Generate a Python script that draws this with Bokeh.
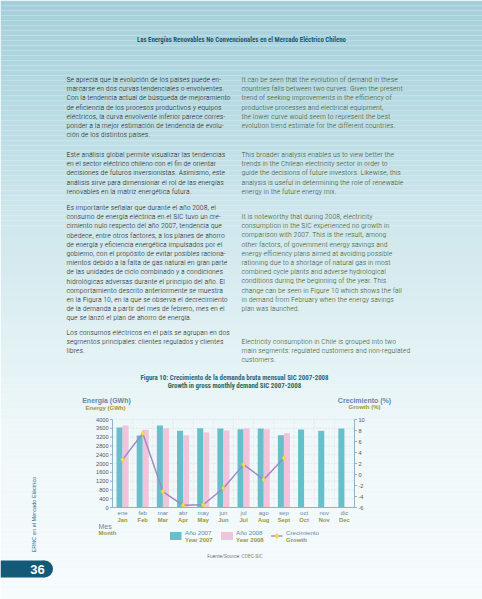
import numpy as np
from bokeh.plotting import figure
from bokeh.models import Range1d
from bokeh.core.properties import value
from bokeh.embed import file_html
from bokeh.resources import INLINE

# chart data
meses = ["ene", "feb", "mar", "abr", "may", "jun", "jul", "ago", "sep", "oct", "nov", "dic"]
months = ["Jan", "Feb", "Mar", "Apr", "May", "Jun", "Jul", "Aug", "Sept", "Oct", "Nov", "Dec"]
energia_2007 = [3635, 3270, 3725, 3485, 3605, 3590, 3560, 3590, 3285, 3545, 3485, 3590]
energia_2008 = [3725, 3530, 3605, 3285, 3405, 3500, 3605, 3560, 3375]
crecimiento = [2.7, 7.5, -3.1, -5.6, -5.5, -2.5, 1.8, -0.9, 3.0]
energy_ticks = [0, 400, 800, 1200, 1600, 2000, 2400, 2800, 3200, 3600, 4000]
growth_ticks = [-6, -4, -2, 0, 2, 4, 6, 8, 10]

# page text
header = "Las Energías Renovables No Convencionales en el Mercado Eléctrico Chileno"
left_paras = [
    ["Se aprecia que la evolución de los países puede en-",
     "marcarse en dos curvas tendenciales o envolventes.",
     "Con la tendencia actual de búsqueda de mejoramiento",
     "de eficiencia de los procesos productivos y equipos",
     "eléctricos, la curva envolvente inferior parece corres-",
     "ponder a la mejor estimación de tendencia de evolu-",
     "ción de los distintos países."],
    ["Este análisis global permite visualizar las tendencias",
     "en el sector eléctrico chileno con el fin de orientar",
     "decisiones de futuros inversionistas. Asimismo, este",
     "análisis sirve para dimensionar el rol de las energías",
     "renovables en la matriz energética futura."],
    ["Es importante señalar que durante el año 2008, el",
     "consumo de energía eléctrica en el SIC tuvo un cre-",
     "cimiento nulo respecto del año 2007, tendencia que",
     "obedece, entre otros factores, a los planes de ahorro",
     "de energía y eficiencia energética impulsados por el",
     "gobierno, con el propósito de evitar posibles raciona-",
     "mientos debido a la falta de gas natural en gran parte",
     "de las unidades de ciclo combinado y a condiciones",
     "hidrológicas adversas durante el principio del año. El",
     "comportamiento descrito anteriormente se muestra",
     "en la Figura 10, en la que se observa el decrecimiento",
     "de la demanda a partir del mes de febrero, mes en el",
     "que se lanzó el plan de ahorro de energía."],
    ["Los consumos eléctricos en el país se agrupan en dos",
     "segmentos principales: clientes regulados y clientes",
     "libres."],
]
right_paras = [
    ["It can be seen that the evolution of demand in these",
     "countries falls between two curves. Given the present",
     "trend of seeking improvements in the efficiency of",
     "productive processes and electrical equipment,",
     "the lower curve would seem to represent the best",
     "evolution trend estimate for the different countries."],
    ["This broader analysis enables us to view better the",
     "trends in the Chilean electricity sector in order to",
     "guide the decisions of future investors. Likewise, this",
     "analysis is useful in determining the role of renewable",
     "energy in the future energy mix."],
    ["It is noteworthy that during 2008, electricity",
     "consumption in the SIC experienced no growth in",
     "comparison with 2007. This is the result, among",
     "other factors, of government energy savings and",
     "energy efficiency plans aimed at avoiding possible",
     "rationing due to a shortage of natural gas in most",
     "combined cycle plants and adverse hydrological",
     "conditions during the beginning of the year. This",
     "change can be seen in Figure 10 which shows the fall",
     "in demand from February when the energy savings",
     "plan was launched."],
    ["Electricity consumption in Chile is grouped into two",
     "main segments: regulated customers and non-regulated",
     "customers."],
]
left_starts = [79, 154, 207, 332]
right_starts = [79, 154, 216, 341]
LINE = 9.2

NARROW = value("'Roboto Condensed Light', 'Roboto Condensed', 'DejaVu Sans Condensed'")
NARROW_B = value("'Roboto Condensed', 'DejaVu Sans Condensed'")
SANS = value("'Liberation Sans', Arial, sans-serif")

TEAL = "#66bfcb"
PINK = "#f2c4db"
PURPLE = "#9b88c2"
YELLOW = "#f4e04d"
AXIS = "#8fb2c6"
BLUEGRAY = "#6587a8"
OLIVE = "#9d9636"

PW, PH = 482, 599
p = figure(width=PW, height=PH, x_range=Range1d(0, PW), y_range=Range1d(PH, 0),
           output_backend="svg", toolbar_location=None, min_border=0)
p.axis.visible = False
p.grid.visible = False
p.outline_line_color = None

# background gradient
stops_y = [0, 70, 200, 330, 430, 599]
stops_c = [(164, 207, 218), (176, 215, 224), (203, 229, 235), (224, 240, 243), (238, 247, 249), (246, 251, 252)]
ys = np.linspace(0, PH, 121)
cols = []
for y in ys[:-1]:
    rgb = [np.interp(y + 2.5, stops_y, [c[i] for c in stops_c]) for i in range(3)]
    cols.append("#%02x%02x%02x" % tuple(int(round(v)) for v in rgb))
p.quad(left=0, right=PW, top=ys[:-1], bottom=ys[1:], fill_color=cols, line_color=None)

p.text(x=[241], y=[39], text=[header], text_font=NARROW_B, text_font_style="bold",
       text_font_size="6.8px", text_color="#1d5870", text_align="center", text_baseline="middle")

def column(paras, starts, x, color):
    xs, ys_, txt = [], [], []
    for para, y0 in zip(paras, starts):
        for i, line in enumerate(para):
            xs.append(x)
            ys_.append(y0 + i * LINE)
            txt.append(line)
    p.text(x=xs, y=ys_, text=txt, text_font=NARROW, text_font_size="7.8px",
           text_color=color, text_align="left", text_baseline="middle")

column(left_paras, left_starts, 66, "#1c1c1c")
column(right_paras, right_starts, 241, "#44581f")

# figure titles
p.text(x=[234], y=[377.5], text=["Figura 10: Crecimiento de la demanda bruta mensual SIC 2007-2008"],
       text_font=NARROW_B, text_font_style="bold", text_font_size="6.9px", text_color="#1f6a86",
       text_align="center", text_baseline="middle")
p.text(x=[234], y=[385], text=["Growth in gross monthly demand SIC 2007-2008"],
       text_font=NARROW_B, text_font_style="bold", text_font_size="6.9px", text_color="#2b6a5a",
       text_align="center", text_baseline="middle")

# chart scales mapped onto the page
X0, X1 = 112, 354
Y0, Y1 = 507, 419
w = (X1 - X0) / 12
p.extra_x_ranges = {"month": Range1d((0 - X0) / w - 0.5, (PW - X0) / w - 0.5)}
ek = 4000 / (Y0 - Y1)
gk = 16 / (Y0 - Y1)
p.extra_y_ranges = {"energy": Range1d((Y0 - PH) * ek, (Y0 - 0) * ek),
                    "growth": Range1d(-6 + (Y0 - PH) * gk, -6 + (Y0 - 0) * gk)}
M = dict(x_range_name="month", y_range_name="energy")

mx = np.arange(len(meses))
# grid
p.segment(x0=-0.5, x1=11.5, y0=energy_ticks[1:], y1=energy_ticks[1:], line_color="#c9d6dd",
          line_dash="1 2", line_width=0.8, **M)
p.segment(x0=mx[:-1] + 0.5, x1=mx[:-1] + 0.5, y0=0, y1=4000, line_color="#d3dde2",
          line_dash="1 2", line_width=0.8, **M)

# bars
p.vbar(x=mx - 0.15, width=0.3, top=energia_2007, bottom=0, fill_color=TEAL, line_color=None, **M)
p.vbar(x=mx[:len(energia_2008)] + 0.15, width=0.3, top=energia_2008, bottom=0,
       fill_color=PINK, line_color=None, **M)

# growth line
p.line(mx[:len(crecimiento)], crecimiento, line_color=PURPLE, line_width=1.4,
       x_range_name="month", y_range_name="growth")
p.scatter(mx[:len(crecimiento)], crecimiento, marker="diamond", size=5.5, fill_color=YELLOW,
          line_color="#e8c830", line_width=0.5, x_range_name="month", y_range_name="growth")

# axes
p.segment(x0=[-0.5, 11.5, -0.5], x1=[-0.5, 11.5, 11.5], y0=[0, 0, 0], y1=[4000, 4000, 0],
          line_color=AXIS, line_width=1, **M)
tk = 2.5 / w
p.segment(x0=-0.5 - tk, x1=-0.5, y0=energy_ticks, y1=energy_ticks, line_color=AXIS, **M)
p.segment(x0=11.5, x1=11.5 + tk, y0=growth_ticks, y1=growth_ticks, line_color=AXIS,
          x_range_name="month", y_range_name="growth")
p.text(x=-0.5, y=energy_ticks, text=[str(t) for t in energy_ticks], x_offset=-4,
       text_font=SANS, text_font_size="5.6px", text_color="#555555",
       text_align="right", text_baseline="middle", **M)
p.text(x=11.5, y=growth_ticks, text=[str(t) for t in growth_ticks], x_offset=4,
       text_font=SANS, text_font_size="5.6px", text_color="#555555",
       text_align="left", text_baseline="middle", x_range_name="month", y_range_name="growth")
p.text(x=mx, y=0, text=meses, y_offset=5, text_font=SANS, text_font_size="6px",
       text_color=BLUEGRAY, text_align="center", text_baseline="middle", **M)
p.text(x=mx, y=0, text=months, y_offset=12, text_font=SANS, text_font_size="5.8px",
       text_font_style="bold", text_color=OLIVE, text_align="center", text_baseline="middle", **M)

# axis titles
p.text(x=[106], y=[400], text=["Energía (GWh)"], text_font=SANS, text_font_style="bold",
       text_font_size="7px", text_color=BLUEGRAY, text_align="center", text_baseline="middle")
p.text(x=[105], y=[407.5], text=["Energy (GWh)"], text_font=SANS, text_font_style="bold",
       text_font_size="6px", text_color=OLIVE, text_align="center", text_baseline="middle")
p.text(x=[364], y=[399.5], text=["Crecimiento (%)"], text_font=SANS, text_font_style="bold",
       text_font_size="7px", text_color=BLUEGRAY, text_align="center", text_baseline="middle")
p.text(x=[364], y=[406.5], text=["Growth (%)"], text_font=SANS, text_font_style="bold",
       text_font_size="6px", text_color=OLIVE, text_align="center", text_baseline="middle")
p.text(x=[98], y=[525.5], text=["Mes"], text_font=SANS, text_font_size="7px",
       text_color=BLUEGRAY, text_align="left", text_baseline="middle")
p.text(x=[98], y=[532.5], text=["Month"], text_font=SANS, text_font_style="bold",
       text_font_size="6px", text_color=OLIVE, text_align="left", text_baseline="middle")

# legend
p.quad(left=[169.5, 220.5], right=[181, 232.5], top=[531.5, 531.5], bottom=[539.5, 539.5],
       fill_color=[TEAL, PINK], line_color=None)
p.segment(x0=[270.5], x1=[282], y0=[535.5], y1=[535.5], line_color=PURPLE, line_width=1.4)
p.scatter(x=[276.2], y=[535.5], marker="diamond", size=5.5, fill_color=YELLOW, line_color="#e8c830",
          line_width=0.5)
p.text(x=[184.5, 235.5, 285.5], y=[532, 532, 532], text=["Año 2007", "Año 2008", "Crecimiento"],
       text_font=SANS, text_font_size="6.2px", text_color=BLUEGRAY, text_align="left", text_baseline="middle")
p.text(x=[184.5, 235.5, 285.5], y=[539, 539, 539], text=["Year 2007", "Year 2008", "Growth"],
       text_font=SANS, text_font_style="bold", text_font_size="6px", text_color=OLIVE,
       text_align="left", text_baseline="middle")

p.text(x=[234.5], y=[555], text=["Fuente/Source: CDEC-SIC"], text_font=NARROW, text_font_size="5.6px",
       text_color="#444444", text_align="center", text_baseline="middle")

# side label and page number tab
p.text(x=[33], y=[552], text=["ERNC en el Mercado Eléctrico"], angle=np.pi / 2, text_font=SANS,
       text_font_size="5.6px", text_color="#2d6f8a", text_align="left", text_baseline="middle")
p.quad(left=[0], right=[44], top=[560], bottom=[577], fill_color="#135a78", line_color=None)
p.scatter(x=[44], y=[568.5], marker="circle", size=17, fill_color="#135a78", line_color=None)
p.text(x=[37], y=[569], text=["36"], text_font=SANS, text_font_style="bold", text_font_size="13px",
       text_color="white", text_align="center", text_baseline="middle")

open("out.html", "w").write(file_html(p, INLINE))
